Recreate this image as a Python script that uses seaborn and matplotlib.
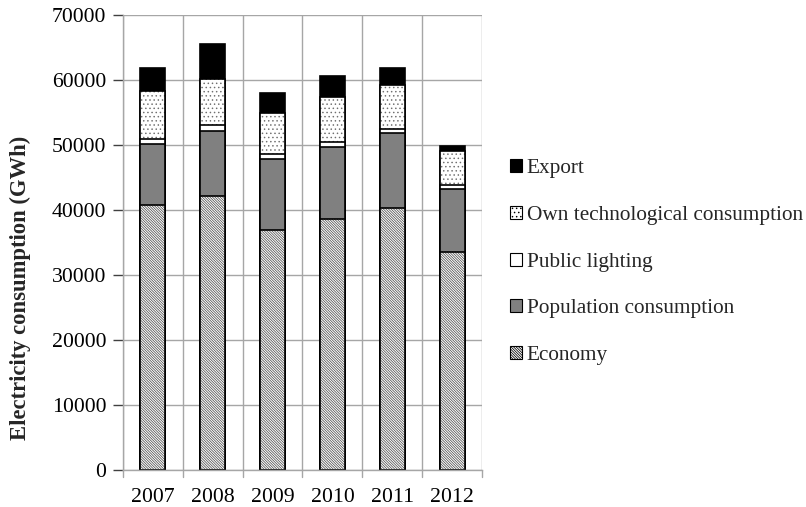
import matplotlib
matplotlib.use("Agg")
import matplotlib.pyplot as plt
from matplotlib.patches import Patch
import numpy as np
import pandas as pd
import seaborn as sns

years = ["2007", "2008", "2009", "2010", "2011", "2012"]
economy = [40800, 42100, 36900, 38600, 40300, 33500]
population = [9400, 10100, 11000, 11100, 11600, 9700]
public_lighting = [800, 900, 700, 800, 600, 600]
own_technological = [7300, 7100, 6400, 6900, 6700, 5300]
export = [3500, 5300, 3000, 3300, 2700, 800]

series = [
    ("Economy", economy, dict(facecolor="white", hatch="\\" * 13, hatchcolor="#505050")),
    ("Population consumption", population, dict(facecolor="#808080", hatch=None, hatchcolor=None)),
    ("Public lighting", public_lighting, dict(facecolor="white", hatch=None, hatchcolor=None)),
    ("Own technological consumption", own_technological, dict(facecolor="white", hatch="....", hatchcolor="#707070")),
    ("Export", export, dict(facecolor="black", hatch=None, hatchcolor=None)),
]

sns.set_style("white")
plt.rcParams["font.family"] = ["Liberation Serif", "DejaVu Serif"]
plt.rcParams["hatch.linewidth"] = 0.55

fig = plt.figure(figsize=(8.06, 5.07), dpi=100)
ax = fig.add_axes([0.1526, 0.073, 0.4454, 0.897])

# Stack: draw cumulative totals from the top layer down so each layer overlays the next
cum = np.cumsum(np.array([s[1] for s in series]), axis=0)
for i in range(len(series) - 1, -1, -1):
    name, _, style = series[i]
    df = pd.DataFrame({"year": years, "value": cum[i]})
    sns.barplot(data=df, x="year", y="value", ax=ax, width=0.42,
                color=style["facecolor"], saturation=1, errorbar=None)
    new_bars = ax.patches[-len(years):]
    for bar in new_bars:
        bar.set_facecolor(style["facecolor"])
        bar.set_linewidth(1.2)
        if style["hatch"]:
            # hatch drawn in its own colour, then outline on top
            bar.set_edgecolor(style["hatchcolor"])
            bar.set_hatch(style["hatch"])
            bar.set_linewidth(0)
            x0, y0 = bar.get_xy()
            ax.add_patch(plt.Rectangle((x0, y0), bar.get_width(), bar.get_height(),
                                       fill=False, edgecolor="black", linewidth=1.2,
                                       zorder=bar.get_zorder()))
        else:
            bar.set_edgecolor("black")

ax.set_ylim(0, 70000)
ax.set_xlim(-0.5, 5.5)
ax.set_yticks(range(0, 70001, 10000))
ax.set_xlabel("")
ax.set_ylabel("Electricity consumption (GWh)", fontsize=16.3, fontweight="bold")
ax.yaxis.label.set_va("center")
ax.yaxis.set_label_coords(-0.287, 0.401)
ax.tick_params(axis="both", labelsize=15.7, colors="#404040", labelcolor="black")
ax.tick_params(axis="y", length=7, width=1, direction="out", left=True, pad=5)
ax.tick_params(axis="x", length=0, pad=13)

# Gridlines: horizontal at y ticks, vertical at category boundaries
ax.set_axisbelow(True)
ax.yaxis.grid(True, color="#a6a6a6", linewidth=1)
for b in np.arange(-0.5, 6.0, 1.0):
    ax.axvline(b, color="#a6a6a6", linewidth=1, zorder=0)
    ax.plot([b, b], [0, -0.016], transform=ax.get_xaxis_transform(),
            color="#a6a6a6", linewidth=1, clip_on=False)
for side in ["top", "right"]:
    ax.spines[side].set_visible(False)
for side in ["left", "bottom"]:
    ax.spines[side].set_color("#a6a6a6")
    ax.spines[side].set_linewidth(1)

handles = []
for name, _, style in series[::-1]:
    handles.append(Patch(facecolor=style["facecolor"], edgecolor="black",
                         hatch=style["hatch"], linewidth=0.8, label=name))
fig.legend(handles=handles, loc="center left", bbox_to_anchor=(0.622, 0.483),
           frameon=False, fontsize=15.3, handlelength=0.55, handleheight=0.55,
           handletextpad=0.25, labelspacing=1.3, borderaxespad=0)

fig.savefig("out.png", dpi=100)
